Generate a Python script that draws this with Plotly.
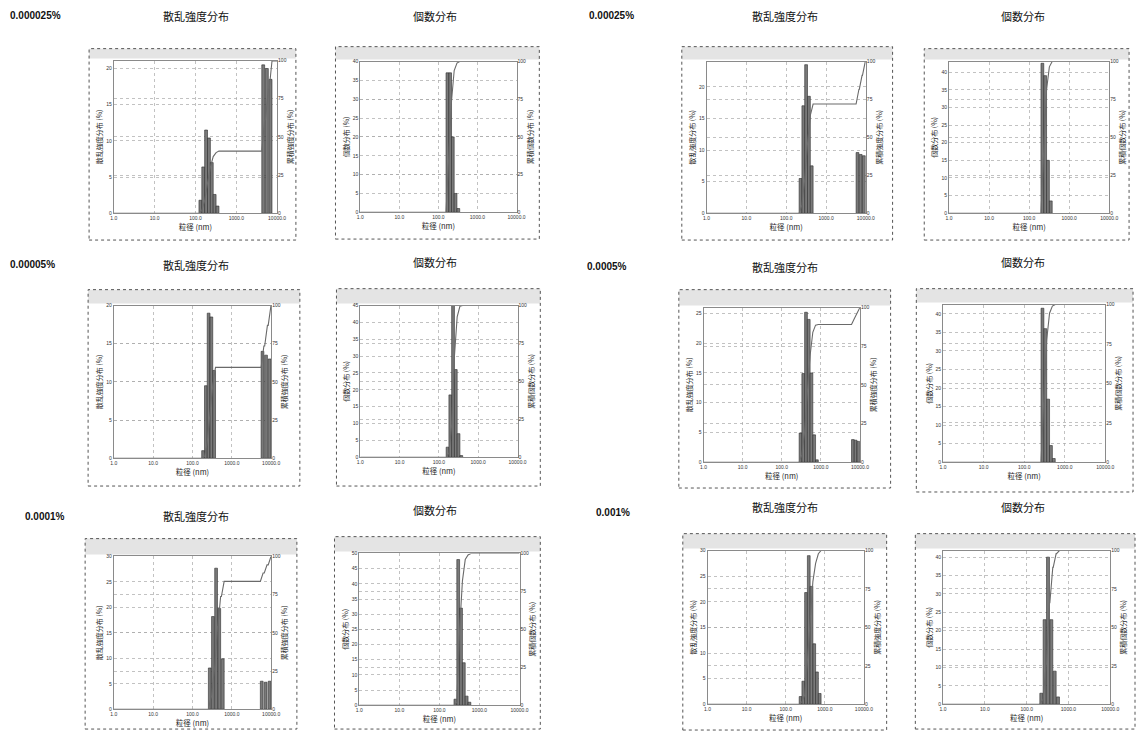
import numpy as np
import plotly.graph_objects as go

W, H = 1145, 738

# ---------------- data ----------------
x_tick_nm = [1, 10, 100, 1000, 10000]
x_tick_text = ['1.0', '10.0', '100.0', '1000.0', '10000.0']
cum_ticks = [0, 25, 50, 75, 100]

concentrations = ['0.000025%', '0.00005%', '0.0001%', '0.00025%', '0.0005%', '0.001%']
dist_titles = ['散乱強度分布', '個数分布']
left_axis_titles = ['散乱強度分布 (%)', '個数分布 (%)']
right_axis_titles = ['累積強度分布 (%)', '累積個数分布 (%)']
x_axis_title = '粒径 (nm)'

# particle diameter of each histogram bin (nm) and frequency (%)
# 0.000025 %
int_000025_d = [132, 155, 182, 214, 251, 295, 347, 4571, 5623, 6918]
int_000025_v = [1.8, 6.4, 11.5, 10.4, 7.0, 2.6, 1.0, 20.5, 20.0, 18.5]
num_000025_d = [170, 200, 234, 275, 324]
num_000025_v = [37.0, 37.0, 20.0, 5.0, 1.0]
# 0.00005 %
int_00005_d = [186, 219, 257, 302, 355, 6026, 7413, 9120]
int_00005_v = [1.0, 9.5, 19.0, 18.5, 11.5, 14.0, 13.5, 13.0]
num_00005_d = [166, 195, 229, 269, 316, 372]
num_00005_v = [3.0, 18.5, 45.0, 26.0, 7.0, 0.5]
# 0.0001 %
int_0001_d = [275, 331, 398, 479, 589, 5754, 7244, 9120]
int_0001_v = [8.1, 18.2, 27.7, 19.8, 9.9, 5.5, 5.3, 5.5]
num_0001_d = [251, 295, 347, 407, 479, 562]
num_0001_v = [2.0, 48.0, 32.0, 14.0, 3.0, 1.0]
# 0.00025 %
int_00025_d = [229, 269, 316, 372, 437, 6166, 7413, 8913]
int_00025_v = [5.5, 17.0, 23.5, 18.5, 7.5, 9.6, 9.3, 9.1]
num_00025_d = [214, 251, 295, 347]
num_00025_v = [42.5, 39.0, 15.0, 3.5]
# 0.0005 %
int_0005_d = [302, 355, 417, 490, 575, 676, 794, 6607, 7762, 9120]
int_0005_v = [4.9, 14.9, 25.2, 24.0, 15.0, 4.6, 0.4, 3.8, 3.7, 3.5]
num_0005_d = [282, 331, 389, 457, 537]
num_0005_v = [41.5, 36.0, 17.0, 4.5, 1.0]
# 0.001 %
int_001_d = [240, 282, 331, 389, 457, 537, 631, 741]
int_001_v = [1.5, 4.5, 21.8, 29.0, 23.0, 11.8, 6.3, 2.1]
num_001_d = [224, 269, 324, 389, 468, 562]
num_001_v = [3.0, 23.0, 40.0, 23.0, 9.0, 2.0]

# left-axis upper limits (%) as printed on each panel
left_axis_max = [21.1, 40, 24, 43, 20, 45, 26, 42.5, 30, 50, 30, 41.8]

# ---------------- layout (pixels) ----------------
panel_data = [
    (int_000025_d, int_000025_v), (num_000025_d, num_000025_v),
    (int_00025_d, int_00025_v), (num_00025_d, num_00025_v),
    (int_00005_d, int_00005_v), (num_00005_d, num_00005_v),
    (int_0005_d, int_0005_v), (num_0005_d, num_0005_v),
    (int_0001_d, int_0001_v), (num_0001_d, num_0001_v),
    (int_001_d, int_001_v), (num_001_d, num_001_v),
]
plot_px = [
    (112, 277, 58, 212), (361, 519, 59, 211), (711, 872, 59, 212), (956, 1118, 59, 212),
    (112, 271, 305, 459), (361, 520, 305, 458), (708, 866, 307, 463), (950, 1114, 304, 463),
    (112, 271, 558, 712), (360, 522, 555, 708), (712, 870, 552, 707), (950, 1119, 552, 707),
]
box_px = [
    (87, 46, 296, 239), (336, 44, 542, 238), (686, 44, 899, 239), (931, 46, 1138, 239),
    (86, 289, 300, 487), (337, 288, 543, 487), (683, 289, 897, 489), (923, 288, 1142, 493),
    (83, 540, 297, 732), (335, 538, 543, 732), (687, 535, 893, 733), (922, 535, 1144, 732),
]
conc_px = [(5, 13, 0), (590, 13, 3), (5, 264, 1), (588, 266, 4), (20, 518, 2), (597, 514, 5)]
title_px = [
    (195, 13, 0), (437, 13, 1), (790, 13, 0), (1031, 13, 1),
    (195, 264, 0), (437, 261, 1), (790, 266, 0), (1031, 261, 1),
    (195, 517, 0), (437, 511, 1), (790, 508, 0), (1031, 508, 1),
]

BAR_W = 0.07
JP = 'Noto Sans CJK JP'
GRID = '#a8a8a8'

fig = go.Figure()
layout = {}
shapes = []
annotations = []

def px2paper_x(x):
    return x / W

def px2paper_y(y):
    return 1 - y / H

for i in range(12):
    diam, vals = panel_data[i]
    kind = i % 2
    lx = np.log10(np.array(diam, dtype=float))
    n = i + 1
    xa = 'x' if n == 1 else f'x{n}'
    yl_n, yr_n = 2 * i + 1, 2 * i + 2
    yl = 'y' if yl_n == 1 else f'y{yl_n}'
    yr = f'y{yr_n}'

    fig.add_trace(go.Bar(
        x=lx, y=vals, width=BAR_W, xaxis=xa, yaxis=yl, showlegend=False,
        marker=dict(color='#7a7a7a', line=dict(color='#2c2c2c', width=0.6)),
        hoverinfo='skip'))

    cum = np.cumsum(vals)
    cx, cy = [0.0], [0.0]
    prev = 0.0
    for l, c in zip(lx, cum):
        left = max(l - BAR_W / 2, cx[-1])
        right = l + BAR_W / 2
        cx += [left, right]
        cy += [prev, c]
        prev = c
    cx.append(4.0)
    cy.append(prev)
    fig.add_trace(go.Scatter(
        x=cx, y=cy, mode='lines', xaxis=xa, yaxis=yr, showlegend=False,
        line=dict(color='#6a6a6a', width=1.1), hoverinfo='skip'))

    x0, x1, y0, y1 = plot_px[i]
    dom_x = [px2paper_x(x0), px2paper_x(x1)]
    dom_y = [px2paper_y(y1), px2paper_y(y0)]
    common = dict(showline=True, mirror=True, linecolor='#8a8a8a', linewidth=1,
                  zeroline=False, ticks='', tickfont=dict(size=5, color='#333', family='Liberation Sans'),
                  gridcolor=GRID, griddash='dot', gridwidth=0.7, showgrid=True)
    layout['xaxis' if n == 1 else f'xaxis{n}'] = dict(
        domain=dom_x, anchor=yl, range=[0, 4],
        tickvals=list(np.log10(x_tick_nm)), ticktext=x_tick_text,
        title=dict(text=x_axis_title, font=dict(size=7.5, family=JP, color='#222'), standoff=3),
        **common)
    layout['yaxis' if yl_n == 1 else f'yaxis{yl_n}'] = dict(
        domain=dom_y, anchor=xa, range=[0, left_axis_max[i]], dtick=5,
        title=dict(text=left_axis_titles[kind], font=dict(size=7, family=JP, color='#222'), standoff=2),
        **common)
    common_r = dict(common)
    common_r['showline'] = False
    layout[f'yaxis{yr_n}'] = dict(
        anchor=xa, overlaying=yl, side='right', range=[0, 100], tickvals=cum_ticks,
        title=dict(text=right_axis_titles[kind], font=dict(size=7, family=JP, color='#222'), standoff=2),
        **common_r)

    bx0, by0, bx1, by1 = box_px[i]
    shapes.append(dict(type='rect', xref='paper', yref='paper', layer='below',
                       x0=px2paper_x(bx0), x1=px2paper_x(bx1),
                       y0=px2paper_y(y0 - 2), y1=px2paper_y(by0),
                       fillcolor='#e4e4e4', line=dict(width=0)))
    shapes.append(dict(type='rect', xref='paper', yref='paper', layer='below',
                       x0=px2paper_x(bx0), x1=px2paper_x(bx1),
                       y0=px2paper_y(by1), y1=px2paper_y(by0),
                       fillcolor='rgba(0,0,0,0)', line=dict(color='#555555', width=1, dash='dot')))

for x, y, k in conc_px:
    annotations.append(dict(xref='paper', yref='paper', x=px2paper_x(x), y=px2paper_y(y),
                            xanchor='left', yanchor='middle', showarrow=False,
                            text=f'<b>{concentrations[k]}</b>',
                            font=dict(size=10, family='Liberation Sans', color='#111')))
for x, y, k in title_px:
    annotations.append(dict(xref='paper', yref='paper', x=px2paper_x(x), y=px2paper_y(y),
                            xanchor='center', yanchor='middle', showarrow=False,
                            text=dist_titles[k],
                            font=dict(size=11, family=JP, color='#111')))

fig.update_layout(
    width=W, height=H, autosize=False,
    margin=dict(l=0, r=0, t=0, b=0, pad=0),
    paper_bgcolor='white', plot_bgcolor='white',
    barmode='overlay', bargap=0,
    shapes=shapes, annotations=annotations,
    **layout)

fig.write_html('out.html',
               config={'displayModeBar': False, 'staticPlot': True},
               post_script="document.body.style.margin='0';document.body.style.overflow='hidden';")
